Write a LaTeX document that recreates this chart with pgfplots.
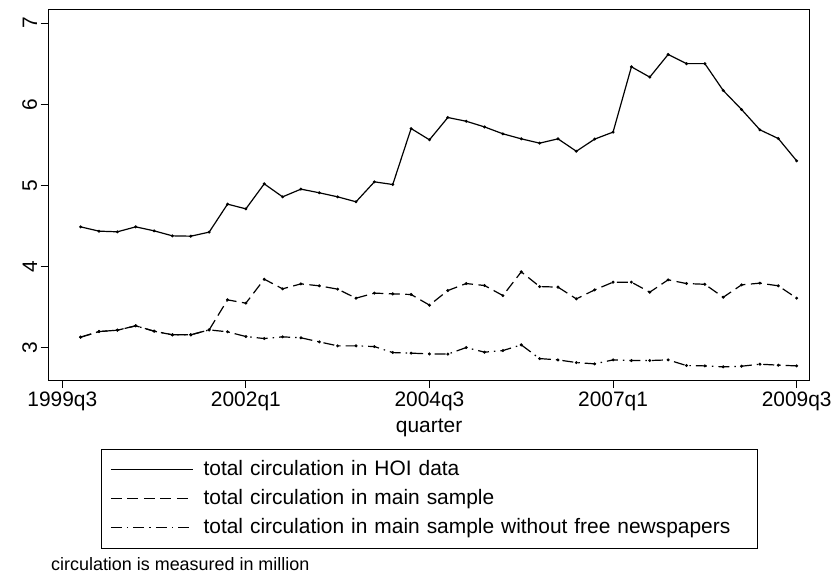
\documentclass[border=0pt]{standalone}
\usepackage{fontspec}
\setmainfont{Liberation Sans}
\usepackage{pgfplots}
\usepackage{pgfplotstable}
\pgfplotsset{compat=1.18}
\pgfplotstableread{
t v
1 4.488
2 4.435
3 4.427
4 4.488
5 4.439
6 4.377
7 4.373
8 4.423
9 4.768
10 4.710
11 5.018
12 4.858
13 4.953
14 4.908
15 4.858
16 4.797
17 5.043
18 5.010
19 5.700
20 5.561
21 5.836
22 5.790
23 5.720
24 5.635
25 5.573
26 5.520
27 5.573
28 5.420
29 5.570
30 5.656
31 6.461
32 6.334
33 6.613
34 6.500
35 6.500
36 6.169
37 5.935
38 5.684
39 5.577
40 5.302
}\hoi
\pgfplotstableread{
t v
1 3.128
2 3.197
3 3.214
4 3.268
5 3.202
6 3.157
7 3.157
8 3.218
9 3.588
10 3.547
11 3.843
12 3.724
13 3.785
14 3.761
15 3.720
16 3.609
17 3.671
18 3.662
19 3.654
20 3.523
21 3.703
22 3.789
23 3.765
24 3.641
25 3.933
26 3.752
27 3.745
28 3.600
29 3.711
30 3.806
31 3.806
32 3.683
33 3.835
34 3.789
35 3.780
36 3.620
37 3.773
38 3.794
39 3.761
40 3.609
}\mainsample
\pgfplotstableread{
t v
1 3.128
2 3.197
3 3.214
4 3.268
5 3.202
6 3.157
7 3.157
8 3.218
9 3.194
10 3.136
11 3.111
12 3.132
13 3.120
14 3.070
15 3.021
16 3.021
17 3.012
18 2.938
19 2.931
20 2.922
21 2.919
22 3.000
23 2.943
24 2.963
25 3.033
26 2.864
27 2.848
28 2.815
29 2.799
30 2.848
31 2.840
32 2.840
33 2.848
34 2.778
35 2.774
36 2.762
37 2.770
38 2.795
39 2.783
40 2.774
}\nofree
\begin{document}
\begin{tikzpicture}
\begin{axis}[
  at={(0,0)}, anchor=south west,
  scale only axis, width=760.8bp, height=370.7bp,
  xmin=-0.74, xmax=40.7, ymin=2.6, ymax=7.17,
  xtick={0,10,20,30,40},
  xticklabels={1999q3,2002q1,2004q3,2007q1,2009q3},
  ytick={3,4,5,6,7},
  xtick pos=bottom, ytick pos=left,
  tick align=outside,
  major tick length=8bp,
  tick style={black, line width=0.8bp},
  axis line style={black, line width=0.9bp},
  /pgf/number format/assume math mode=true,
  tick label style={font=\fontsize{21}{25}\selectfont},
  yticklabel style={rotate=90, anchor=south},
  xlabel={quarter},
  every axis x label/.style={at={(axis description cs:0.5,0)}, anchor=center,
    yshift=-48bp, font=\fontsize{21}{25}\selectfont},
  legend style={at={(0.0687,-0.186)}, anchor=north west, draw=black, line width=0.8bp,
    font=\fontsize{21}{25}\selectfont, row sep=5bp, inner xsep=9bp, inner ysep=8.5bp,
    nodes={inner sep=2bp, text height=15.5bp, text depth=4.5bp, text width=543bp, align=left}},
  legend cell align=left,
  legend image code/.code={\draw[#1, mark=none] (0bp,0bp) -- (82bp,0bp); \path (90bp,0bp);},
  every axis plot/.append style={black, line width=1.2bp, mark=*, mark size=0.8bp, mark options={solid}},
]
\addplot[solid] table[x=t, y=v] {\hoi};
\addlegendentry{total circulation in HOI data}
\addplot[dash pattern=on 11bp off 5.5bp] table[x=t, y=v] {\mainsample};
\addlegendentry{total circulation in main sample}
\addplot[dash pattern=on 11bp off 5bp on 1.5bp off 5bp] table[x=t, y=v] {\nofree};
\addlegendentry{total circulation in main sample without free newspapers}
\end{axis}
\node[anchor=west, inner sep=0pt, font=\fontsize{18}{21}\selectfont] at (2.3bp,-184bp) {circulation is measured in million};
\pgfresetboundingbox
\path (-48.7bp,-198bp) rectangle (787.3bp,380bp);
\end{tikzpicture}
\end{document}
